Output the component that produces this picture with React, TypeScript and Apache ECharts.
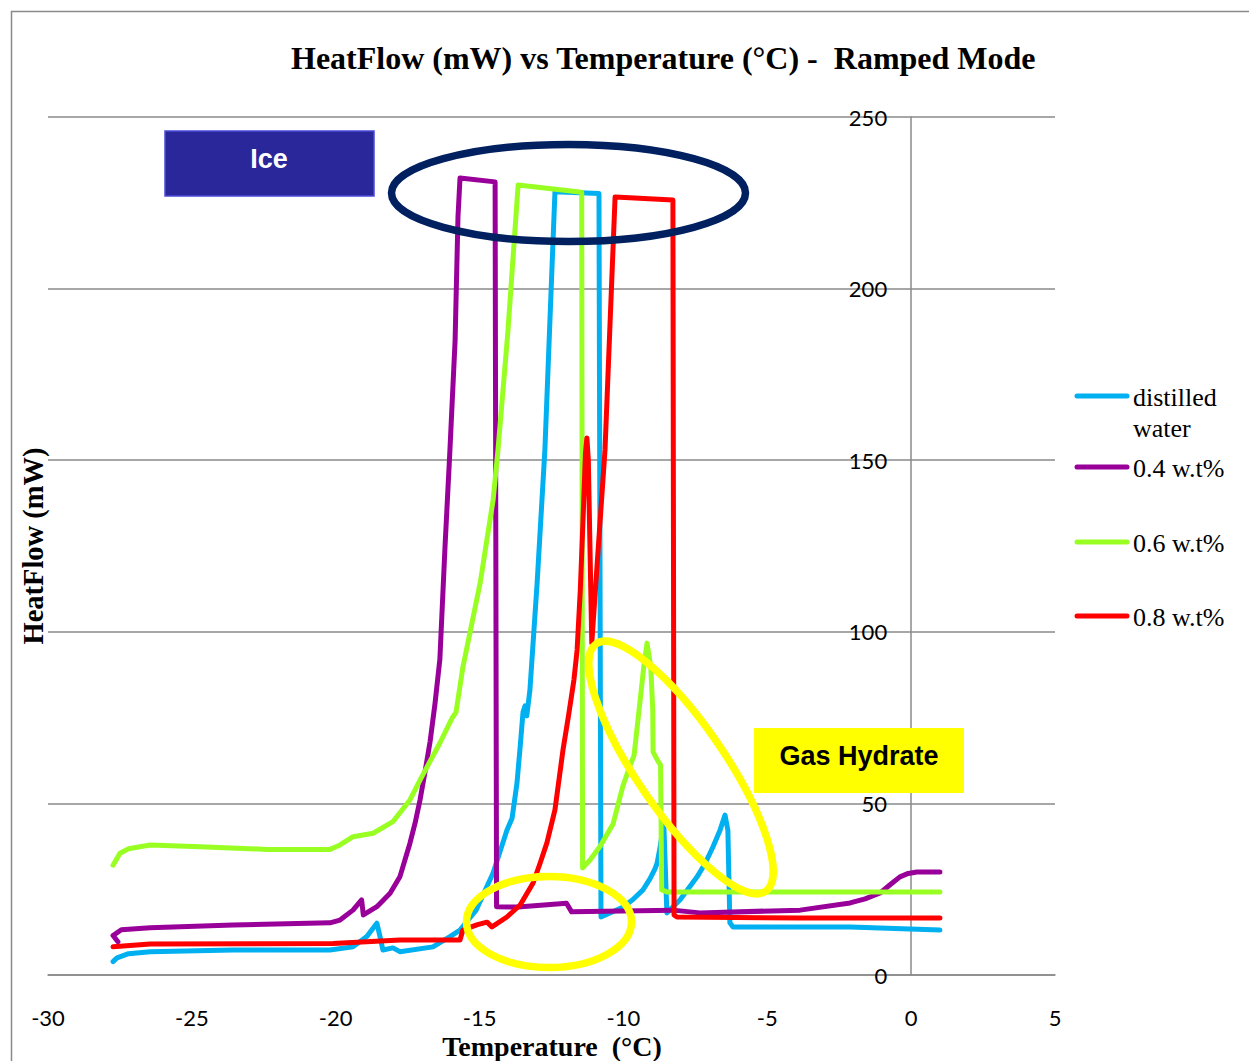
import React, { useEffect, useRef } from "react";
import * as echarts from "echarts";

const seriesNames = ["distilled water", "0.4 w.t%", "0.6 w.t%", "0.8 w.t%"];
const legendLabels = ["distilled\nwater", "0.4 w.t%", "0.6 w.t%", "0.8 w.t%"];
const seriesColors = ["#00B0F0", "#990099", "#99FF22", "#FF0000"];

const xMin = -30;
const xMax = 5;
const xStep = 5;
const yMin = 0;
const yMax = 250;
const yStep = 50;

const distilledWater: number[][] = [
  [-27.74, 3.9], [-27.6, 5.0], [-27.2, 6.2], [-26.45, 6.8], [-23.57, 7.3], [-20.2, 7.3],
  [-19.4, 8.2], [-18.92, 11.2], [-18.57, 15.1], [-18.46, 11.2], [-18.36, 7.3],
  [-18.01, 7.9], [-17.77, 6.8], [-16.62, 8.2], [-16.03, 11.2], [-15.68, 13.1],
  [-15.12, 18.9], [-14.53, 29.7], [-14.05, 42.2], [-13.87, 45.7], [-13.7, 55.9],
  [-13.59, 66.4], [-13.49, 76.6], [-13.42, 78.4], [-13.36, 75.5], [-13.25, 83.0],
  [-13.0, 114.2], [-12.73, 153.0], [-12.38, 228.2], [-10.85, 227.7], [-10.78, 16.9],
  [-10.43, 18.2], [-10.01, 19.8], [-9.67, 22.0], [-9.32, 24.8], [-9.08, 28.0],
  [-8.9, 31.0], [-8.83, 32.6], [-8.73, 37.0], [-8.66, 41.0], [-8.6, 45.0],
  [-8.49, 18.1], [-8.03, 21.9], [-7.44, 28.6], [-7.16, 32.5], [-6.89, 37.3], [-6.65, 42.0],
  [-6.47, 46.6], [-6.37, 42.2], [-6.3, 15.2], [-6.19, 14.0], [-2.12, 14.0], [1.0, 13.1],
];

const wt04: number[][] = [
  [-27.57, 9.7], [-27.74, 11.5], [-27.45, 13.2], [-26.45, 13.8], [-23.57, 14.6],
  [-20.2, 15.2], [-19.85, 16.0], [-19.4, 18.9], [-19.1, 21.9], [-19.04, 17.5],
  [-18.57, 19.9], [-18.11, 23.8], [-17.77, 28.6], [-17.42, 38.4], [-17.24, 44.3],
  [-17.07, 51.0], [-16.9, 59.0], [-16.72, 68.0], [-16.55, 79.0], [-16.38, 92.0],
  [-16.2, 125.0], [-16.03, 153.0], [-15.85, 185.0], [-15.75, 221.0],
  [-15.68, 232.2], [-14.46, 231.1], [-14.41, 19.9], [-13.66, 19.8], [-11.98, 20.9],
  [-11.8, 18.4], [-8.28, 18.9], [-7.34, 18.1], [-3.86, 18.9], [-2.12, 21.0],
  [-1.6, 22.2], [-1.08, 23.9], [-0.7, 26.5], [-0.39, 28.6], [-0.1, 29.6], [0.2, 30.0], [1.0, 30.0],
];

const wt06: number[][] = [
  [-27.74, 32.0], [-27.5, 35.5], [-27.2, 36.8], [-26.45, 37.9], [-24.72, 37.4], [-22.4, 36.6],
  [-20.2, 36.6], [-19.85, 37.9], [-19.4, 40.3], [-18.7, 41.3], [-18.01, 44.7],
  [-17.42, 51.0], [-17.07, 56.8], [-16.38, 67.6], [-15.96, 74.8], [-15.82, 76.5],
  [-15.58, 89.7], [-14.98, 114.2], [-14.53, 138.4], [-14.36, 153.0], [-14.02, 187.0],
  [-13.66, 230.2], [-11.45, 228.1], [-11.42, 31.2], [-11.16, 33.5], [-10.81, 37.5],
  [-10.36, 44.0], [-10.02, 55.0], [-9.77, 61.0], [-9.63, 64.0], [-9.42, 80.0],
  [-9.29, 90.0], [-9.18, 96.7], [-9.05, 89.8], [-8.98, 77.0], [-8.97, 65.0], [-8.8, 62.3],
  [-8.71, 61.2], [-8.67, 24.8], [-8.49, 24.2], [1.0, 24.2],
];

const wt08: number[][] = [
  [-27.74, 8.2], [-26.45, 9.0], [-20.09, 9.2], [-17.77, 10.2], [-15.68, 10.2],
  [-15.58, 13.1], [-15.1, 14.6], [-14.74, 15.4], [-14.57, 14.0], [-14.05, 16.9],
  [-13.59, 20.4], [-13.14, 26.8], [-12.9, 32.5], [-12.66, 38.5], [-12.38, 48.1],
  [-12.1, 65.6], [-11.9, 76.0], [-11.72, 86.0], [-11.61, 94.7], [-11.5, 112.0],
  [-11.4, 133.5], [-11.32, 152.0], [-11.27, 156.5], [-11.22, 150.0],
  [-11.1, 96.7], [-10.88, 123.8], [-10.64, 153.0], [-10.29, 226.7], [-8.28, 225.8],
  [-8.24, 17.5], [-8.14, 16.9], [-3.86, 16.6], [1.0, 16.6],
];

const seriesData = [distilledWater, wt04, wt06, wt08];

const titleText = "HeatFlow (mW) vs Temperature (°C) -  Ramped Mode";
const xName = "Temperature  (°C)";
const yName = "HeatFlow (mW)";
const iceLabel = "Ice";
const hydrateLabel = "Gas Hydrate";

export default function App() {
  const ref = useRef<HTMLDivElement>(null);

  useEffect(() => {
    if (!ref.current) return;
    const chart = echarts.init(ref.current, undefined, { renderer: "svg" });

    const gridLeft = 48;
    const gridRight = 1055;
    // y axis sits at x = 0 of the temperature scale
    const yAxisOffset = -((0 - xMin) / (xMax - xMin)) * (gridRight - gridLeft);

    const legendY = [396, 467, 542, 616];
    const legendGraphics: any[] = [];
    seriesNames.forEach((_, i) => {
      legendGraphics.push({
        type: "line",
        shape: { x1: 1077, y1: legendY[i], x2: 1127, y2: legendY[i] },
        style: { stroke: seriesColors[i], lineWidth: 5, lineCap: "round" },
        z: 100,
      });
      legendGraphics.push({
        type: "text",
        x: 1133,
        y: legendY[i] - 14,
        style: {
          text: legendLabels[i],
          font: '26px "Liberation Serif"',
          fill: "#000",
          align: "left",
          verticalAlign: "top",
          lineHeight: 31,
        },
        z: 100,
      });
    });

    const option: any = {
      animation: false,
      backgroundColor: "#ffffff",
      title: {
        text: titleText,
        left: 291,
        top: 42,
        padding: 0,
        textStyle: {
          fontFamily: "Liberation Serif",
          fontWeight: "bold",
          fontSize: 32,
          color: "#000",
        },
      },
      grid: {
        left: gridLeft,
        right: 1249 - gridRight,
        top: 117,
        bottom: 86,
        containLabel: false,
        outerBoundsMode: "none",
      },
      xAxis: {
        type: "value",
        min: xMin,
        max: xMax,
        interval: xStep,
        axisLine: { show: true, onZero: false, lineStyle: { color: "#8a8a8a", width: 1.5 } },
        axisTick: { show: false },
        splitLine: { show: false },
        axisLabel: {
          margin: 31,
          fontFamily: "Lato",
          fontSize: 22,
          lineHeight: 22,
          color: "#000",
        },
      },
      yAxis: {
        type: "value",
        min: yMin,
        max: yMax,
        interval: yStep,
        position: "left",
        offset: yAxisOffset,
        axisLine: { show: true, onZero: false, lineStyle: { color: "#8a8a8a", width: 1.5 } },
        axisTick: { show: false },
        splitLine: { show: true, lineStyle: { color: "#8a8a8a", width: 1.5 } },
        axisLabel: {
          margin: 24,
          fontFamily: "Lato",
          fontSize: 22,
          color: "#000",
        },
      },
      series: seriesNames.map((name, i) => ({
        name,
        type: "line",
        data: seriesData[i],
        showSymbol: false,
        symbol: "none",
        smooth: false,
        z: 2 + i,
        lineStyle: { color: seriesColors[i], width: 5, cap: "round", join: "round" },
        itemStyle: { color: seriesColors[i] },
      })),
      graphic: [
        {
          type: "rect",
          shape: { x: 11.5, y: 11.5, width: 1300, height: 1100 },
          style: { fill: "none", stroke: "#8a8a8a", lineWidth: 1.5 },
          z: -10,
          silent: true,
        },
        {
          type: "text",
          x: 33,
          y: 546,
          rotation: Math.PI / 2,
          style: {
            text: yName,
            font: 'bold 28.5px "Liberation Serif"',
            fill: "#000",
            align: "center",
            verticalAlign: "middle",
          },
          z: 100,
        },
        {
          type: "text",
          x: 552,
          y: 1046,
          style: {
            text: xName,
            font: 'bold 28px "Liberation Serif"',
            fill: "#000",
            align: "center",
            verticalAlign: "middle",
          },
          z: 100,
        },
        {
          type: "rect",
          shape: { x: 165, y: 131, width: 209, height: 65 },
          style: { fill: "#29279A", stroke: "#4B4BD8", lineWidth: 1.5 },
          z: 100,
        },
        {
          type: "text",
          x: 269,
          y: 159,
          style: {
            text: iceLabel,
            font: 'bold 27px "Liberation Sans"',
            fill: "#ffffff",
            align: "center",
            verticalAlign: "middle",
          },
          z: 101,
        },
        {
          type: "rect",
          shape: { x: 754, y: 728, width: 210, height: 65 },
          style: { fill: "#FFFF00" },
          z: 100,
        },
        {
          type: "text",
          x: 859,
          y: 756,
          style: {
            text: hydrateLabel,
            font: 'bold 27px "Liberation Sans"',
            fill: "#000",
            align: "center",
            verticalAlign: "middle",
          },
          z: 101,
        },
        {
          type: "ellipse",
          shape: { cx: 568.5, cy: 193, rx: 177, ry: 48.5 },
          style: { fill: "none", stroke: "#002060", lineWidth: 7.5 },
          z: 100,
        },
        {
          type: "ellipse",
          shape: { cx: 549, cy: 922, rx: 82.5, ry: 45.5 },
          style: { fill: "none", stroke: "#FFFF00", lineWidth: 7.5 },
          z: 100,
        },
        {
          type: "ellipse",
          x: 681,
          y: 767.5,
          rotation: (-55.6 * Math.PI) / 180,
          shape: { cx: 0, cy: 0, rx: 150, ry: 44 },
          style: { fill: "none", stroke: "#FFFF00", lineWidth: 7.5 },
          z: 100,
        },
        ...legendGraphics,
      ],
    };

    chart.setOption(option);
    return () => chart.dispose();
  }, []);

  return (
    <div
      ref={ref}
      style={{ position: "fixed", left: 0, top: 0, width: 1249, height: 1061 }}
    />
  );
}
